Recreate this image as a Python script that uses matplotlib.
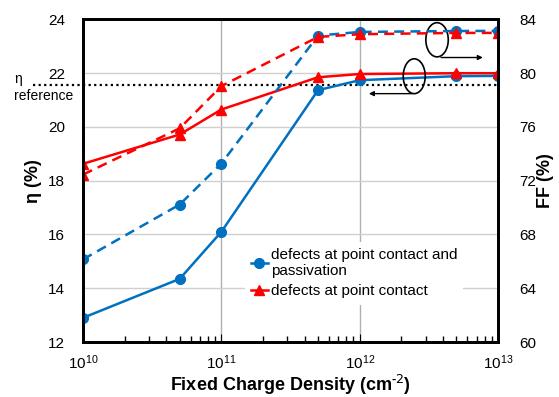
import matplotlib
matplotlib.use('Agg')
import matplotlib.pyplot as plt
from matplotlib.patches import Ellipse
import numpy as np

plt.rcParams['font.family'] = ['Liberation Sans', 'DejaVu Sans']

# Fixed charge density (cm^-2)
charge = [1e10, 5e10, 1e11, 5e11, 1e12, 5e12, 1e13]

# efficiency (%) - left axis, solid lines
eta_pc_pass = [12.9, 14.35, 16.1, 21.37, 21.74, 21.89, 21.9]
eta_pc = [18.63, 19.72, 20.65, 21.85, 21.97, 22.0, 22.0]

# fill factor (%) - right axis, dashed lines
ff_pc_pass = [66.15, 70.23, 73.28, 82.8, 83.07, 83.14, 83.15]
ff_pc = [72.46, 75.9, 79.04, 82.7, 82.9, 83.0, 83.0]

eta_reference = 21.58

blue = '#0070C0'
red = '#FF0000'

fig = plt.figure(figsize=(5.59, 3.97), dpi=100)
ax = fig.add_axes([0.1485, 0.1385, 0.7425, 0.8125])
ax2 = ax.twinx()

# efficiency curves
ax.plot(charge, eta_pc_pass, color=blue, lw=1.8, marker='o', ms=7, zorder=3)
ax.plot(charge, eta_pc, color=red, lw=1.8, marker='^', ms=7, zorder=3)

# fill factor curves
ax2.plot(charge, ff_pc_pass, color=blue, lw=1.8, ls=(0, (4, 2.5)), marker='o', ms=7,
         label='defects at point contact and\npassivation')
ax2.plot(charge, ff_pc, color=red, lw=1.8, ls=(0, (4, 2.5)), marker='^', ms=7,
         label='defects at point contact')

# reference efficiency line (sticks out to the left)
ax.plot([-0.12, 1.0], [eta_reference, eta_reference], color='black', lw=1.6,
        ls=(0, (1, 1.5)), transform=ax.get_yaxis_transform(), clip_on=False, zorder=2)
fig.text(14 / 559, 1 - 79 / 397, '\u03b7', ha='left', va='center', fontsize=10)
fig.text(14 / 559, 1 - 96 / 397, 'reference', ha='left', va='center', fontsize=10)

ax.set_xscale('log')
ax.set_xlim(1e10, 1e13)
ax.set_ylim(12, 24)
ax.set_yticks(np.arange(12, 25, 2))
ax2.set_ylim(60, 84)
ax2.set_yticks(np.arange(60, 85, 4))
ax.set_xticks([1e10, 1e11, 1e12, 1e13])
ax.set_xticklabels(['$\\mathregular{10^{10}}$', '$\\mathregular{10^{11}}$',
                    '$\\mathregular{10^{12}}$', '$\\mathregular{10^{13}}$'])

ax.grid(axis='y', color='#d0d0d0', lw=1)
ax.grid(axis='x', which='major', color='#b0b0b0', lw=1)
ax.set_axisbelow(True)

ax.tick_params(axis='y', length=0, pad=13, labelsize=11)
ax2.tick_params(axis='y', length=0, pad=15, labelsize=11)
ax.tick_params(axis='x', which='major', direction='in', length=6, pad=8, labelsize=11)
ax.tick_params(axis='x', which='minor', direction='in', length=4, width=1)

for a in (ax, ax2):
    for s in a.spines.values():
        s.set_linewidth(2)
        s.set_color('black')

ax.set_xlabel('Fixed Charge Density (cm$^{\\mathregular{\u2010}2}$)', fontsize=13,
              fontweight='bold', labelpad=1)
ax.set_ylabel('\u03b7 (%)', fontsize=13, fontweight='bold', labelpad=4)
ax2.set_ylabel('FF (%)', fontsize=13, fontweight='bold', labelpad=1)

leg = ax2.legend(loc='upper left', bbox_to_anchor=(0.39, 0.31), frameon=True,
                 fontsize=11, handlelength=1.1, handletextpad=0.2,
                 borderaxespad=0, labelspacing=0.4, fancybox=False)
leg.get_frame().set_edgecolor('none')
leg.get_frame().set_facecolor('white')
leg.get_frame().set_alpha(1)
for h in leg.legend_handles:
    h.set_linestyle('-')

# ellipses with arrows pointing to the matching axis
ax2.add_patch(Ellipse((0.853, 0.937), 0.054, 0.106, transform=ax.transAxes,
                      fill=False, ec='black', lw=1.2, clip_on=False))
ax2.annotate('', xy=(0.97, 0.882), xytext=(0.856, 0.882), xycoords='axes fraction',
             arrowprops=dict(arrowstyle='-|>', color='black', lw=1, mutation_scale=7))
ax2.add_patch(Ellipse((0.798, 0.824), 0.053, 0.108, transform=ax.transAxes,
                      fill=False, ec='black', lw=1.2, clip_on=False))
ax2.annotate('', xy=(0.682, 0.770), xytext=(0.8, 0.770), xycoords='axes fraction',
             arrowprops=dict(arrowstyle='-|>', color='black', lw=1, mutation_scale=7))

fig.savefig('out.png', dpi=100)
